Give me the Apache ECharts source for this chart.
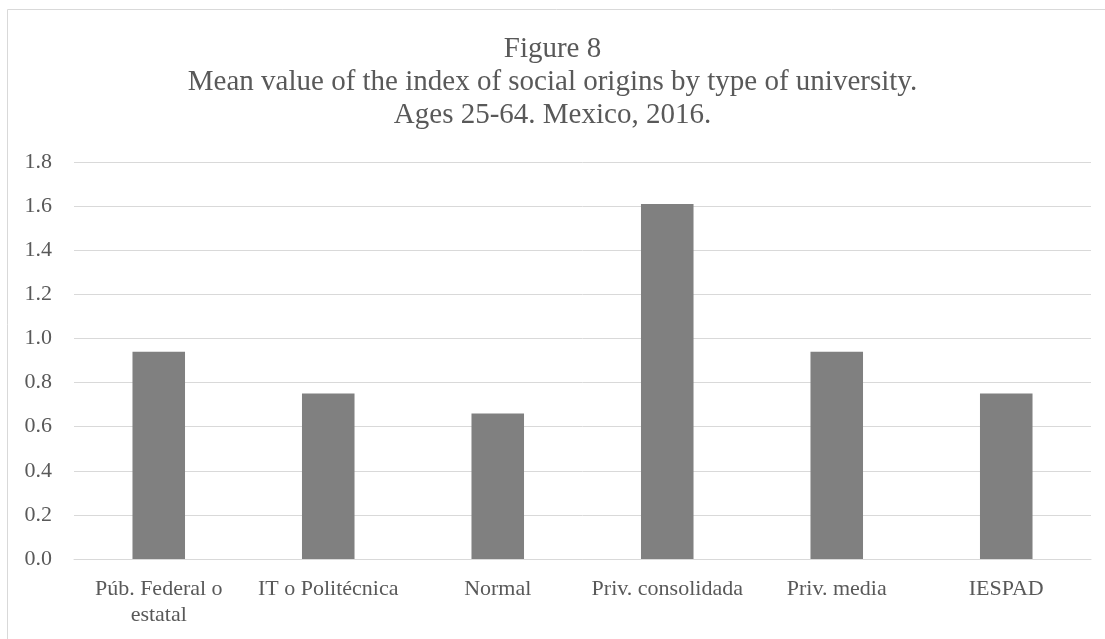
<!DOCTYPE html>
<html>
<head>
<meta charset="utf-8">
<script src="https://cdn.jsdelivr.net/npm/echarts@6/dist/echarts.min.js"></script>
<style>
  html, body { margin: 0; padding: 0; background: #fff; }
  #chart { width: 1105px; height: 639px; }
</style>
</head>
<body>
<div id="chart"></div>
<script>
// categories and values
const categories = [
  "Púb. Federal o\nestatal",
  "IT o Politécnica",
  "Normal",
  "Priv. consolidada",
  "Priv. media",
  "IESPAD",
];
const meanValues = [0.94, 0.75, 0.66, 1.61, 0.94, 0.75];
const yTicks = { min: 0, max: 1.8, step: 0.2 };

const chart = echarts.init(document.getElementById("chart"));
const font = "'Liberation Serif', 'Times New Roman', serif";

chart.setOption({
  animation: false,
  textStyle: { fontFamily: font },
  title: {
    text: "Figure 8\nMean value of the index of social origins by type of university.\nAges 25-64. Mexico, 2016.",
    left: "center",
    top: 33,
    padding: 0,
    textStyle: {
      fontFamily: font,
      fontWeight: "normal",
      fontSize: 29,
      lineHeight: 33,
      color: "#595959",
    },
  },
  // outer chart frame
  graphic: [
    {
      type: "rect",
      shape: { x: 7.5, y: 9.5, width: 1120, height: 660 },
      style: { fill: "none", stroke: "#d9d9d9", lineWidth: 1 },
      silent: true,
    },
  ],
  grid: { left: 74, right: 14, top: 162, bottom: 80 },
  xAxis: {
    type: "category",
    data: categories,
    axisLine: { lineStyle: { color: "#d9d9d9", width: 1 } },
    axisTick: { show: false },
    axisLabel: {
      color: "#595959",
      fontSize: 22,
      fontFamily: font,
      lineHeight: 26,
      margin: 17,
      interval: 0,
    },
  },
  yAxis: {
    type: "value",
    min: yTicks.min,
    max: yTicks.max,
    interval: yTicks.step,
    axisLine: { show: false },
    axisTick: { show: false },
    axisLabel: {
      color: "#595959",
      fontSize: 22,
      fontFamily: font,
      margin: 22,
      formatter: (v) => v.toFixed(1),
    },
    splitLine: { lineStyle: { color: "#d9d9d9", width: 1 } },
  },
  series: [
    {
      type: "bar",
      data: meanValues,
      barWidth: "31%",
      itemStyle: { color: "#808080" },
    },
  ],
});
</script>
</body>
</html>
